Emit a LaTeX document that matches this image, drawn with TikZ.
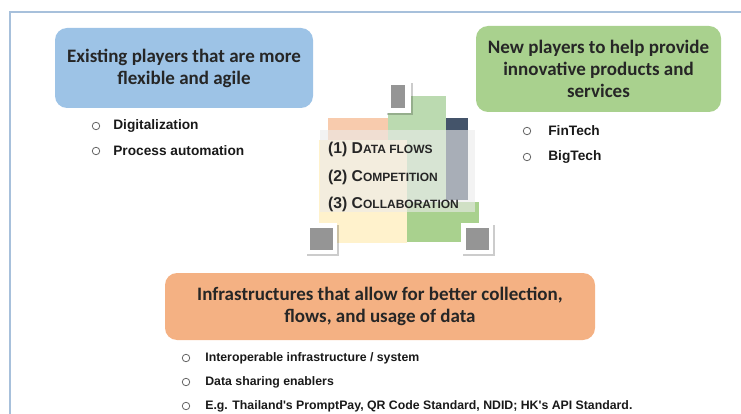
\documentclass[tikz,border=0pt]{standalone}
\usepackage{fontspec}
\setmainfont{Carlito}
\newfontfamily\itemfont{Liberation Sans}
\usepackage{xcolor}
\usetikzlibrary{positioning}
\usetikzlibrary{shadows}

\definecolor{boxblue}{HTML}{9DC3E6}
\definecolor{boxgreen}{HTML}{A9D18E}
\definecolor{boxorange}{HTML}{F4B183}
\definecolor{framecol}{HTML}{A7C0DB}
\definecolor{lightorange}{HTML}{F8CBAD}
\definecolor{lightgreen}{HTML}{BBDAB0}
\definecolor{navy}{HTML}{44546A}
\definecolor{lightyellow}{HTML}{FFF2CC}
\definecolor{photogrey}{HTML}{959595}

\newcommand{\ssc}[2]{#1{\fontsize{12}{14}\selectfont #2}}

\tikzset{
  titlebox/.style={rounded corners=12pt, align=center, text=black!85,
    font={\fontsize{19}{22}\selectfont\bfseries}},
  bullet/.style={circle, draw=black!60, line width=0.8pt, minimum size=7.5pt, inner sep=0pt},
  item/.style={inner sep=0pt, text=black!90, font={\itemfont\bfseries\fontsize{13.7}{16}\selectfont}},
  smallitem/.style={item, font={\itemfont\bfseries\fontsize{12.3}{14}\selectfont}},
  topic/.style={inner sep=0pt, anchor=west, text=black!85, font={\itemfont\bfseries\fontsize{15.7}{18}\selectfont}},
  photoframe/.style={fill=white, draw=none,
    drop shadow={shadow xshift=2pt, shadow yshift=-2pt, fill=black, opacity=0.2}},
  photo/.style={fill=photogrey, draw=none}
}

\begin{document}
\begin{tikzpicture}[x=1pt, y=-1pt]
        \useasboundingbox (0,0) rectangle (741,414);
        \draw[framecol, line width=1.5pt] (10,414) -- (10,12) -- (741,12);

        % the three groups
        \node[titlebox, fill=boxblue, minimum width=258, minimum height=80] (old) at (184,68)
          {Existing players that are more\\flexible and agile};
        \node[titlebox, fill=boxgreen, minimum width=245, minimum height=86] (new) at (598.5,69)
          {New players to help provide\\innovative products and\\services};
        \node[titlebox, fill=boxorange, minimum width=430, minimum height=67] (infra) at (380,306.5)
          {Infrastructures that allow for better collection,\\flows, and usage of data};

        % bullets
        \node[bullet] (o1) at (96,126) {};
        \node[item, right=13pt of o1] {Digitalization};
        \node[bullet] (o2) at (96,151) {};
        \node[item, right=13pt of o2] {Process automation};

        \node[bullet] (n1) at (527,131) {};
        \node[item, right=17pt of n1] {FinTech};
        \node[bullet] (n2) at (527,157) {};
        \node[item, right=17pt of n2] {BigTech};

        \node[bullet] (i1) at (186,358) {};
        \node[smallitem, right=15pt of i1] {Interoperable infrastructure / system};
        \node[bullet] (i2) at (186,382) {};
        \node[smallitem, right=15pt of i2] {Data sharing enablers};
        \node[bullet] (i3) at (186,406) {};
        \node[smallitem, right=15pt of i3] {E.g. Thailand's PromptPay, QR Code Standard, NDID; HK's API Standard.};

        % centre picture
        \fill[lightorange] (328,118) rectangle (388,200);
        \fill[lightgreen] (388,96) rectangle (446,200);
        \fill[navy] (446,118) rectangle (468,200);
        \fill[lightyellow] (319,140) rectangle (407,243);
        \fill[boxgreen] (407,202) rectangle (479,242);
        \fill[white!92!black, opacity=0.6] (320,130) rectangle (475,212);

        \node[topic] (t1) at (328,149) {(1) \ssc{D}{ATA FLOWS}};
        \node[topic] (t2) at (328,177) {(2) \ssc{C}{OMPETITION}};
        \node[topic] (t3) at (328,204) {(3) \ssc{C}{OLLABORATION}};

        \node[photoframe, minimum width=26, minimum height=32] (pictop) at (398,97) {};
        \node[photo, minimum width=14, minimum height=23] at (pictop) {};
        \node[photoframe, minimum width=32, minimum height=31] (picleft) at (321,238.5) {};
        \node[photo, minimum width=23, minimum height=22] at (picleft) {};
        \node[photoframe, minimum width=32, minimum height=31] (picright) at (477,238.5) {};
        \node[photo, minimum width=23, minimum height=22] at (picright) {};

      \end{tikzpicture}
\end{document}
